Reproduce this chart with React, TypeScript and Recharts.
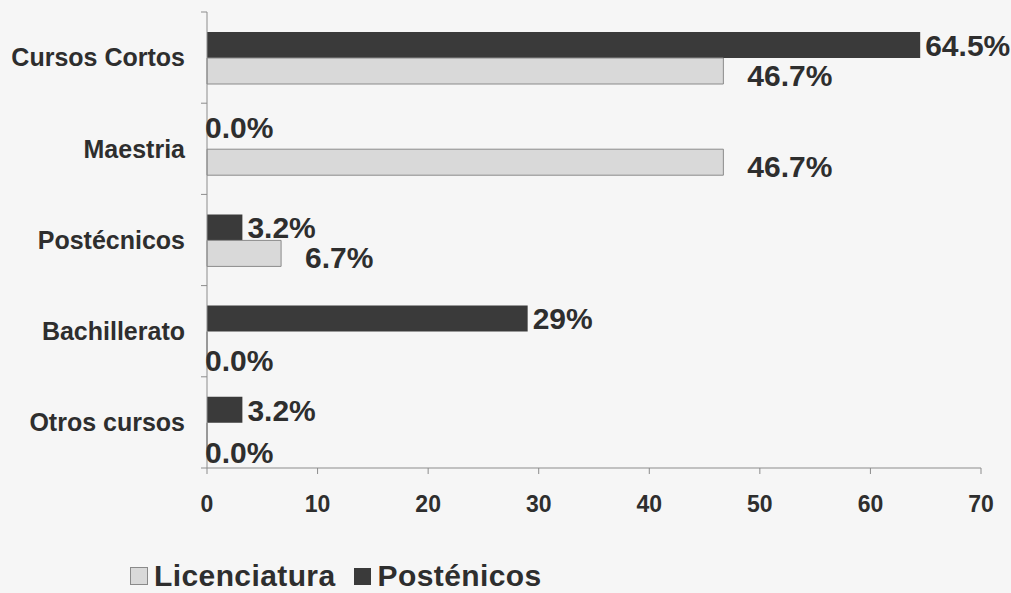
import React from "react";
import { BarChart, Bar, XAxis, YAxis, LabelList, Legend } from "recharts";

const categories = ["Cursos Cortos", "Maestria", "Postécnicos", "Bachillerato", "Otros cursos"];
const postenicos = [64.5, 0, 3.2, 29, 3.2];
const licenciatura = [46.7, 46.7, 6.7, 0, 0];
const postenicosLabels = ["64.5%", "0.0%", "3.2%", "29%", "3.2%"];
const licenciaturaLabels = ["46.7%", "46.7%", "6.7%", "0.0%", "0.0%"];
const xTicks = [0, 10, 20, 30, 40, 50, 60, 70];

const data = categories.map((c, i) => ({
  cat: c,
  post: postenicos[i],
  lic: licenciatura[i],
  postLabel: postenicosLabels[i],
  licLabel: licenciaturaLabels[i],
}));

const FONT = "'Liberation Sans', Arial, Helvetica, sans-serif";
const TEXT = "#2e2e2e";
const DARK = "#3a3a3a";
const LIGHT = "#d9d9d9";
const LIGHT_STROKE = "#8a8a8a";
const AXIS = "#8c8c8c";

const CatTick = (props: any) => {
  const { x, y, payload, height, visibleTicksCount, index } = props;
  const count = visibleTicksCount || categories.length;
  const band = typeof height === "number" && count ? height / count : 0;
  return (
    <g>
      {band > 0 && (
        <line x1={x - 6} x2={x} y1={y - band / 2} y2={y - band / 2} stroke={AXIS} />
      )}
      {band > 0 && index === count - 1 && (
        <line x1={x - 6} x2={x} y1={y + band / 2} y2={y + band / 2} stroke={AXIS} />
      )}
      <text
        x={x - 22}
        y={y}
        dy="0.35em"
        textAnchor="end"
        fontFamily={FONT}
        fontWeight="bold"
        fontSize={25}
        fill={TEXT}
      >
        {payload.value}
      </text>
    </g>
  );
};

const makeLabel = (kind: "post" | "lic") => (props: any) => {
  const { x, y, width, height, value } = props;
  const cy = y + height / 2;
  const isZero = Math.abs(width) < 1;
  let lx = x + width + (kind === "post" ? 5 : 24);
  let dy = kind === "post" ? 0 : 4;
  if (isZero) {
    lx = x - 2;
    dy = kind === "post" ? -9 : 16;
  }
  return (
    <text
      x={lx}
      y={cy + dy}
      dy="0.36em"
      textAnchor="start"
      fontFamily={FONT}
      fontWeight="bold"
      fontSize={30}
      fill={TEXT}
    >
      {value}
    </text>
  );
};

const zeroMin = (value: any) => (value === 0 ? 0.01 : 0);

const LegendContent = () => (
  <div
    style={{
      display: "flex",
      alignItems: "center",
      fontFamily: FONT,
      fontWeight: "bold",
      fontSize: 30,
      lineHeight: "30px",
      letterSpacing: "0.4px",
      color: TEXT,
      whiteSpace: "nowrap",
    }}
  >
    <span
      style={{
        display: "inline-block",
        width: 16,
        height: 16,
        background: LIGHT,
        border: `1px solid ${LIGHT_STROKE}`,
        marginRight: 6,
      }}
    />
    <span style={{ marginRight: 18 }}>Licenciatura</span>
    <span
      style={{
        display: "inline-block",
        width: 17,
        height: 17,
        background: DARK,
        marginRight: 7,
      }}
    />
    <span>Posténicos</span>
  </div>
);

export default function App() {
  return (
    <div
      style={{
        position: "absolute",
        left: 0,
        top: 0,
        width: 1011,
        height: 593,
        background: "#f6f6f6",
      }}
    >
      <BarChart
        layout="vertical"
        width={1011}
        height={593}
        data={data}
        margin={{ top: 12, right: 30, left: 0, bottom: 0 }}
        barSize={26}
        barGap={0}
      >
        <YAxis
          type="category"
          dataKey="cat"
          width={207}
          tick={<CatTick />}
          tickLine={false}
          tickSize={0}
          tickMargin={0}
          axisLine={{ stroke: AXIS }}
        />
        <XAxis
          type="number"
          domain={[0, 70]}
          ticks={xTicks}
          height={125}
          axisLine={{ stroke: AXIS }}
          tickLine={{ stroke: AXIS }}
          tickSize={6}
          tickMargin={22}
          tick={{ fontFamily: FONT, fontWeight: "bold", fontSize: 23, fill: TEXT }}
        />
        <Legend
          layout="horizontal"
          verticalAlign="middle"
          align="center"
          content={<LegendContent />}
          wrapperStyle={{ position: "absolute", left: 130, top: 561, width: "auto" }}
        />
        <Bar
          dataKey="post"
          name="Posténicos"
          fill={DARK}
          minPointSize={zeroMin}
          isAnimationActive={false}
        >
          <LabelList dataKey="postLabel" content={makeLabel("post")} />
        </Bar>
        <Bar
          dataKey="lic"
          name="Licenciatura"
          fill={LIGHT}
          stroke={LIGHT_STROKE}
          strokeWidth={1}
          minPointSize={zeroMin}
          isAnimationActive={false}
        >
          <LabelList dataKey="licLabel" content={makeLabel("lic")} />
        </Bar>
      </BarChart>
    </div>
  );
}
